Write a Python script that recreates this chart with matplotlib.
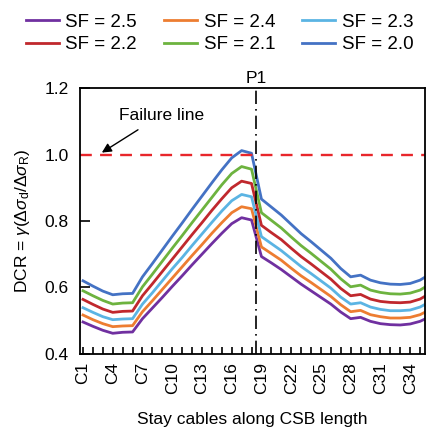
import numpy as np
import matplotlib
matplotlib.use('Agg')
import matplotlib.pyplot as plt
from matplotlib.ticker import MultipleLocator

plt.rcParams['font.family'] = ['Liberation Sans', 'DejaVu Sans']
plt.rcParams['mathtext.fontset'] = 'custom'
plt.rcParams['mathtext.rm'] = 'Liberation Sans'
plt.rcParams['mathtext.it'] = 'Liberation Sans:italic'

cables = np.arange(1, 37)
tick_cables = np.arange(1, 37, 3)
tick_labels = ['C%d' % c for c in tick_cables]
pylon_pos = 18.5

sf_labels = ['SF = 2.5', 'SF = 2.4', 'SF = 2.3', 'SF = 2.2', 'SF = 2.1', 'SF = 2.0']
sf_colors = ['#7030A0', '#ED7D31', '#5BB4E3', '#C0282D', '#6DB33F', '#4472C4']

dcr_25 = [0.496, 0.483, 0.471, 0.462, 0.465, 0.466, 0.506, 0.538, 0.570, 0.603, 0.635, 0.668,
          0.700, 0.732, 0.763, 0.792, 0.810, 0.803, 0.693, 0.674, 0.654, 0.632, 0.610, 0.590,
          0.570, 0.550, 0.526, 0.506, 0.510, 0.498, 0.491, 0.488, 0.487, 0.490, 0.498, 0.512]
dcr_24 = [0.517, 0.503, 0.491, 0.482, 0.484, 0.485, 0.527, 0.560, 0.594, 0.628, 0.662, 0.696,
          0.729, 0.763, 0.795, 0.825, 0.843, 0.837, 0.722, 0.702, 0.682, 0.658, 0.635, 0.615,
          0.594, 0.573, 0.548, 0.527, 0.531, 0.518, 0.512, 0.508, 0.508, 0.510, 0.518, 0.533]
dcr_23 = [0.539, 0.525, 0.512, 0.503, 0.505, 0.506, 0.550, 0.584, 0.620, 0.656, 0.690, 0.726,
          0.761, 0.796, 0.830, 0.861, 0.880, 0.873, 0.753, 0.732, 0.711, 0.687, 0.663, 0.642,
          0.620, 0.598, 0.571, 0.550, 0.554, 0.541, 0.534, 0.530, 0.530, 0.532, 0.541, 0.557]
dcr_22 = [0.564, 0.549, 0.535, 0.525, 0.528, 0.529, 0.575, 0.611, 0.648, 0.685, 0.722, 0.759,
          0.795, 0.832, 0.867, 0.900, 0.920, 0.913, 0.787, 0.765, 0.744, 0.718, 0.693, 0.671,
          0.648, 0.625, 0.597, 0.575, 0.579, 0.565, 0.558, 0.555, 0.554, 0.556, 0.565, 0.582]
dcr_21 = [0.590, 0.575, 0.561, 0.550, 0.553, 0.554, 0.602, 0.640, 0.679, 0.718, 0.756, 0.795,
          0.833, 0.871, 0.909, 0.943, 0.964, 0.956, 0.825, 0.802, 0.779, 0.752, 0.726, 0.703,
          0.679, 0.655, 0.626, 0.602, 0.607, 0.592, 0.585, 0.581, 0.580, 0.583, 0.592, 0.610]
dcr_20 = [0.620, 0.604, 0.589, 0.578, 0.581, 0.582, 0.632, 0.672, 0.713, 0.754, 0.794, 0.835,
          0.875, 0.915, 0.954, 0.990, 1.012, 1.004, 0.866, 0.842, 0.818, 0.790, 0.762, 0.738,
          0.713, 0.688, 0.657, 0.632, 0.637, 0.622, 0.614, 0.610, 0.609, 0.612, 0.622, 0.640]
series = [dcr_25, dcr_24, dcr_23, dcr_22, dcr_21, dcr_20]

fig = plt.figure(figsize=(4.28, 4.30), dpi=100)
ax = fig.add_axes([0.187, 0.177, 0.806, 0.618])

lines = []
for vals, lab, col in zip(series, sf_labels, sf_colors):
    ln, = ax.plot(cables, vals, color=col, lw=2.0, label=lab, solid_joinstyle='round')
    lines.append(ln)

# failure line and pylon
ax.axhline(1.0, color='#E8262B', lw=1.7, ls=(0, (5, 3.5)))
ax.axvline(pylon_pos, color='black', lw=1.2, ls=(0, (8, 3, 1, 3)))
ax.text(pylon_pos, 1.205, 'P1', ha='center', va='bottom', fontsize=12.5)

ax.annotate('Failure line', xy=(2.9, 1.006), xytext=(8.9, 1.119),
            ha='center', va='center', fontsize=12.5,
            arrowprops=dict(arrowstyle='-|>', color='black', lw=1.0,
                            mutation_scale=14, shrinkA=6, shrinkB=0))

ax.set_xlim(0.7, 35.5)
ax.set_ylim(0.4, 1.2)
ax.set_xticks(tick_cables)
ax.set_xticklabels(tick_labels, rotation=90, fontsize=12.5)
ax.xaxis.set_minor_locator(MultipleLocator(1))
ax.set_yticks([0.4, 0.6, 0.8, 1.0, 1.2])
ax.set_yticklabels(['0.4', '0.6', '0.8', '1.0', '1.2'], fontsize=12.5)
ax.tick_params(axis='both', which='both', direction='in', width=1.2, length=5, pad=6)
ax.tick_params(axis='y', length=7, pad=8)
for s in ax.spines.values():
    s.set_linewidth(1.3)

ax.set_xlabel('Stay cables along CSB length', fontsize=12.5, labelpad=12.5)
ax.set_ylabel(r'DCR = $\gamma(\Delta\sigma_\mathrm{d}/\Delta\sigma_\mathrm{R})$', fontsize=12.5, labelpad=9)

order = [0, 3, 1, 4, 2, 5]
fig.legend([lines[i] for i in order], [sf_labels[i] for i in order],
           ncol=3, loc='upper center', bbox_to_anchor=(0.513, 1.008), frameon=False,
           fontsize=13.5, handlelength=1.75, handletextpad=0.35, columnspacing=1.45,
           labelspacing=0.3)

fig.savefig('out.png', dpi=100)
